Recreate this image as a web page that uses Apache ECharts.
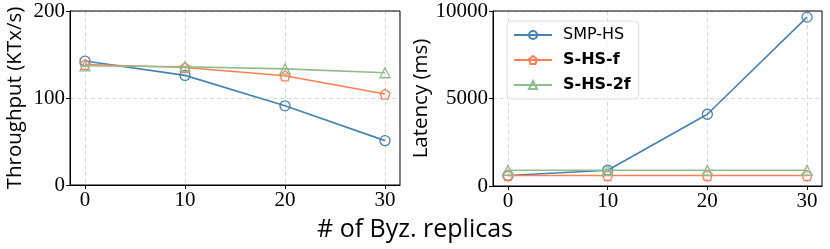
<!DOCTYPE html>
<html><head><meta charset="utf-8">
<script src="https://cdn.jsdelivr.net/npm/echarts@6/dist/echarts.min.js"></script>
<style>html,body{margin:0;padding:0;background:#fff}#c{width:830px;height:249px}</style>
</head><body><div id="c"></div>
<script>
const replicas = [0, 10, 20, 30];
const seriesNames = ['SMP-HS', 'S-HS-f', 'S-HS-2f'];
const throughputSMP = [142.5, 126, 91, 51];
const throughputF = [138.5, 135, 125.5, 104.5];
const throughput2F = [137, 136, 133.5, 129];
const latencySMP = [600, 900, 4100, 9650];
const latencyF = [600, 600, 600, 600];
const latency2F = [900, 900, 900, 900];
const xTicks = [0, 10, 20, 30];

const colors = ['#4682b4', '#ff7f50', '#8fbc8f'];
const symbols = ['circle', 'path://M0,-1 L0.951,-0.309 L0.588,0.809 L-0.588,0.809 L-0.951,-0.309 Z', 'triangle'];
const serifFont = '"Liberation Serif", "DejaVu Serif", serif';
const sansFont = '"Open Sans", "DejaVu Sans", sans-serif';
const legendFont = '"DejaVu Sans", sans-serif';

function pairs(ys) { return replicas.map((x, i) => [x, ys[i]]); }

function mkSeries(idx, ys, axisIdx) {
  return {
    type: 'line', name: seriesNames[idx], xAxisIndex: axisIdx, yAxisIndex: axisIdx,
    data: pairs(ys), symbol: symbols[idx], symbolSize: 10,
    lineStyle: { color: colors[idx], width: 1.6 },
    itemStyle: { color: 'rgba(255,255,255,0)', borderColor: colors[idx], borderWidth: 1.3 },
    emphasis: { disabled: true }, animation: false, z: 3 + idx
  };
}

function xAxis(gi) {
  return {
    type: 'value', gridIndex: gi, min: -1.5, max: 31.5,
    axisLine: { show: true, onZero: false, lineStyle: { color: '#000', width: 1 } },
    axisTick: { show: true, length: 4, customValues: xTicks, lineStyle: { color: '#000' } },
    axisLabel: { customValues: xTicks, color: '#000', fontFamily: serifFont, fontSize: 21, margin: 5 },
    splitLine: { show: true, lineStyle: { color: '#d0d0d0', type: [4, 3], width: 0.8 } }
  };
}
function yAxis(gi, max, interval, name, gap) {
  return {
    type: 'value', gridIndex: gi, min: 0, max: max, interval: interval,
    name: name, nameLocation: 'middle', nameGap: gap, nameRotate: 90,
    nameTextStyle: { color: '#000', fontFamily: sansFont, fontSize: 20.5 },
    axisLine: { show: true, onZero: false, lineStyle: { color: '#000', width: 1 } },
    axisTick: { show: true, length: 4, lineStyle: { color: '#000' } },
    axisLabel: { color: '#000', fontFamily: serifFont, fontSize: 21, margin: 5, formatter: v => String(v) },
    splitLine: { show: true, lineStyle: { color: '#d0d0d0', type: [4, 3], width: 0.8 } }
  };
}

const chart = echarts.init(document.getElementById('c'), null, { renderer: 'canvas' });
chart.setOption({
  animation: false,
  backgroundColor: '#fff',
  title: { text: '# of Byz. replicas', left: 'center', top: 212,
    textStyle: { color: '#000', fontFamily: sansFont, fontSize: 25, fontWeight: 'normal' } },
  grid: [
    { left: 70, top: 11, width: 330, height: 174, show: true, borderColor: '#000', borderWidth: 1, backgroundColor: 'transparent', z: 10 },
    { left: 493, top: 11, width: 329, height: 175, show: true, borderColor: '#000', borderWidth: 1, backgroundColor: 'transparent', z: 10 }
  ],
  xAxis: [xAxis(0), xAxis(1)],
  yAxis: [yAxis(0, 200, 100, 'Throughput (KTx/s)', 44), yAxis(1, 10000, 5000, 'Latency (ms)', 60)],
  legend: {
    left: 507, top: 21, orient: 'vertical', itemGap: 9, itemWidth: 38, itemHeight: 10,
    padding: [6, 8, 6, 6], borderColor: '#ddd', borderWidth: 1, borderRadius: 4,
    backgroundColor: 'rgba(255,255,255,0.8)', z: 20,
    textStyle: { color: '#000', fontFamily: legendFont, fontSize: 16, padding: [0, 0, 0, 6] },
    data: [
      { name: seriesNames[0] },
      { name: seriesNames[1], textStyle: { fontWeight: 'bold' } },
      { name: seriesNames[2], textStyle: { fontWeight: 'bold' } }
    ]
  },
  series: [
    mkSeries(0, throughputSMP, 0), mkSeries(1, throughputF, 0), mkSeries(2, throughput2F, 0),
    mkSeries(0, latencySMP, 1), mkSeries(1, latencyF, 1), mkSeries(2, latency2F, 1)
  ]
});
</script></body></html>
